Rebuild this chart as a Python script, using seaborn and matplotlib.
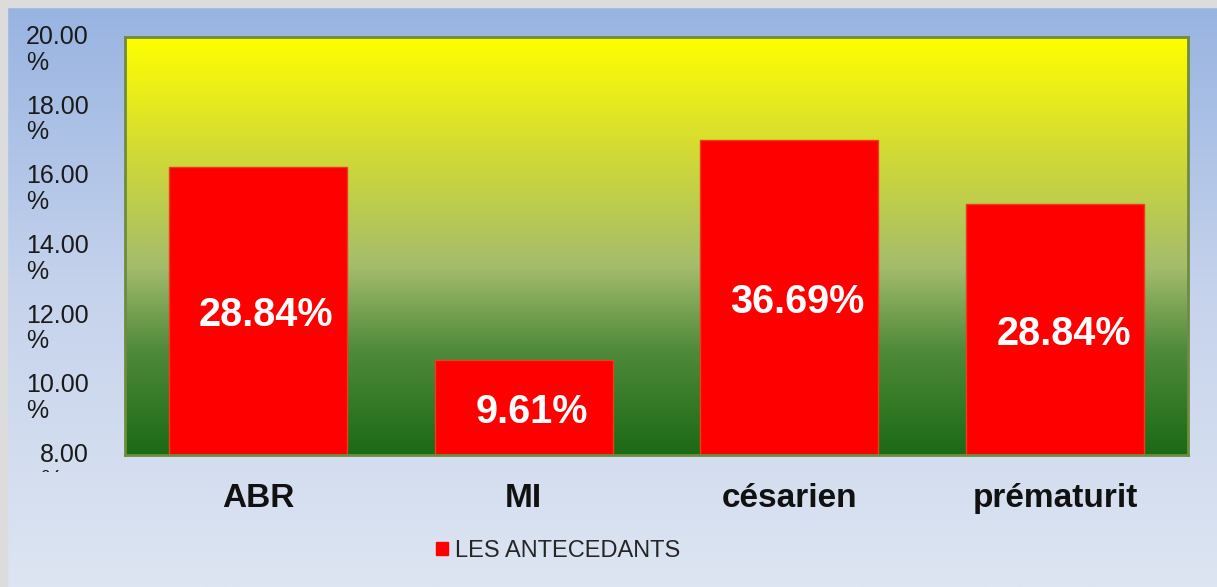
import numpy as np
import pandas as pd
import matplotlib
matplotlib.use("Agg")
import matplotlib.pyplot as plt
import matplotlib.patches as mpatches
from matplotlib.colors import LinearSegmentedColormap
from matplotlib.transforms import ScaledTranslation, Bbox
import seaborn as sns

# data
categories = ["ABR", "MI", "césarien", "prématurit"]
heights = [16.27, 10.72, 17.04, 15.21]
bar_texts = ["28.84%", "9.61%", "36.69%", "28.84%"]
series_name = "LES ANTECEDANTS"
yticks = [8, 10, 12, 14, 16, 18, 20]

sns.set_style("white")
plt.rcParams["font.family"] = ["Liberation Sans", "DejaVu Sans"]

fig = plt.figure(figsize=(12.17, 5.87), dpi=100)

## ====== figure background ======
bg = fig.add_axes([0, 0, 1, 1], zorder=-10)
bg_cmap = LinearSegmentedColormap.from_list("bg", ["#97b3e1", "#c6d3ec", "#dde5f2"])
bg.imshow(np.linspace(0, 1, 256).reshape(-1, 1), cmap=bg_cmap, aspect="auto",
          extent=[0, 1, 0, 1], transform=bg.transAxes)
bg.set_axis_off()
fig.patches.append(mpatches.Rectangle((0, 1 - 7 / 587), 1, 7 / 587, transform=fig.transFigure,
                                      color="#dcdcdc", zorder=-5))
fig.patches.append(mpatches.Rectangle((0, 0), 7 / 1217, 1, transform=fig.transFigure,
                                      color="#dcdcdc", zorder=-5))

## ====== plot area ======
ax = fig.add_axes([125 / 1217, 1 - 455 / 587, (1188 - 125) / 1217, (455 - 37) / 587])
ax.patch.set_alpha(0)
grad = LinearSegmentedColormap.from_list(
    "grad", [(0, "#1b6a15"), (0.25, "#4f8a3a"), (0.45, "#a4bc6c"), (0.75, "#d6dd30"), (1, "#ffff00")])
ax.imshow(np.linspace(0, 1, 256).reshape(-1, 1), cmap=grad, origin="lower", aspect="auto",
          extent=[0, 1, 0, 1], transform=ax.transAxes, zorder=0)

df = pd.DataFrame({"cat": categories, "val": heights, "serie": series_name})
sns.barplot(data=df, x="cat", y="val", hue="serie", palette=["#ff0000"], saturation=1,
            width=0.67, edgecolor="#e8401a", linewidth=1, ax=ax, zorder=2, legend=False)

ax.set_xlim(-0.5, 3.5)
ax.set_ylim(8, 20)
ax.set_xlabel("")
ax.set_ylabel("")

# labels in the original sit a bit right of the bar centre
shift = ScaledTranslation(6 / 72, -3 / 72, fig.dpi_scale_trans)
for i, (v, t) in enumerate(zip(heights, bar_texts)):
    ax.text(i, (8 + v) / 2, t, ha="center", va="center", color="white",
            fontsize=28.5, fontweight="bold", zorder=3, transform=ax.transData + shift)

for s in ax.spines.values():
    s.set_color("#6f8c3e")
    s.set_linewidth(2)

ax.tick_params(axis="both", length=0)
ax.tick_params(axis="x", pad=20, labelsize=24)
for lab in ax.get_xticklabels():
    lab.set_fontweight("bold")
    lab.set_color("#111111")

ax.set_yticks(yticks)
ax.set_yticklabels([f"{v:.2f}\n%" for v in yticks], fontsize=18, color="#1a1a1a",
                   linespacing=1.08, multialignment="left")
ax.tick_params(axis="y", pad=26)
# the last "%" is cut off in the original
clip = Bbox.from_extents(0, 587 - 472, 1217, 587)
for lab in ax.get_yticklabels():
    lab.set_va("top")
    lab.set_transform(lab.get_transform() + ScaledTranslation(0, 8.6 / 72, fig.dpi_scale_trans))
    lab.set_clip_box(clip)
    lab.set_clip_on(True)

handle = mpatches.Patch(color="#ff0000", label=series_name)
ax.legend(handles=[handle], loc="center", bbox_to_anchor=(558 / 1217, 1 - 551 / 587),
          bbox_transform=fig.transFigure, frameon=False, fontsize=17,
          handlelength=0.5, handleheight=0.5, handletextpad=0.3)

fig.savefig("out.png", dpi=100)
